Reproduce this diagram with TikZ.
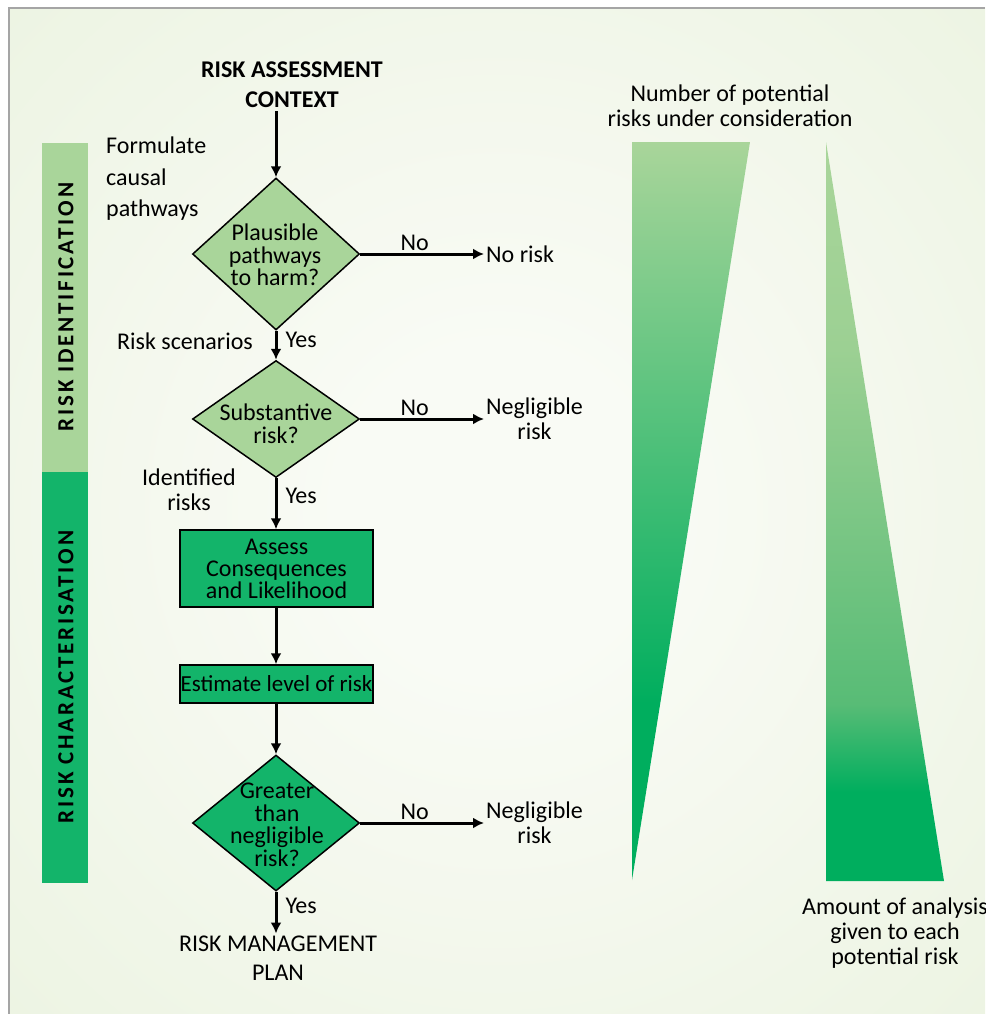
\documentclass[tikz,border=0pt]{standalone}
\usepackage{fontspec}
\setmainfont{Carlito}
\usetikzlibrary{positioning, shapes.geometric, arrows.meta}

\definecolor{paleleaf}{RGB}{169,213,154}
\definecolor{deepleaf}{RGB}{19,180,106}
\definecolor{wedgedark}{RGB}{0,174,94}
\definecolor{wedgemid}{RGB}{88,188,118}
\definecolor{wedgelite}{RGB}{156,208,147}
\definecolor{bgin}{RGB}{249,251,245}
\definecolor{bgout}{RGB}{228,239,214}
\definecolor{framegray}{RGB}{165,165,165}

\pgfdeclareradialshading{bgglow}{\pgfpoint{0bp}{0bp}}{color(0bp)=(bgin); color(8bp)=(bgin); color(55bp)=(bgout); color(75bp)=(bgout)}
\pgfdeclareverticalshading{wedgeleft}{100bp}{color(0bp)=(wedgedark); color(37bp)=(wedgedark); color(75bp)=(paleleaf); color(100bp)=(paleleaf)}
\pgfdeclareverticalshading{wedgeright}{100bp}{color(0bp)=(wedgedark); color(31bp)=(wedgedark); color(37bp)=(wedgemid); color(61bp)=(wedgelite); color(75bp)=(paleleaf); color(100bp)=(paleleaf)}

\tikzset{
  txt/.style={font=\fontsize{24}{25}\selectfont, align=center, inner sep=2pt},
  heading/.style={font=\fontsize{24}{30}\selectfont\bfseries, align=center},
  choice/.style={diamond, draw=black, line width=1.5pt, inner sep=0pt},
  qtext/.style={font=\fontsize{24}{22.5}\selectfont, align=center},
  stepbox/.style={rectangle, draw=black, line width=1.5pt, fill=deepleaf, font=\fontsize{24}{22}\selectfont, align=center, inner sep=0pt},
  flow/.style={-{Latex[length=11pt,width=11pt]}, line width=3pt},
  sidebar/.style={rotate=90, font=\fontsize{23}{23}\selectfont\bfseries\addfontfeature{LetterSpace=12}}
}

\begin{document}
\begin{tikzpicture}[x=1pt, y=-1pt]
\useasboundingbox (0,0) rectangle (985,1014);
% background and frame
\shade[shading=bgglow] (9,8) rectangle (985,1014);
\draw[framegray, line width=1.6pt] (9,1014) -- (9,8) -- (985,8);

% side bars
\fill[paleleaf] (42,143) rectangle (88,472);
\fill[deepleaf] (42,472) rectangle (88,883);
\node[sidebar] (identlbl) at (66,307) {RISK IDENTIFICATION};
\node[sidebar] (charlbl) at (66,677) {RISK CHARACTERISATION};

% flow chart
\node[heading] (context) at (292,85) {RISK ASSESSMENT\\CONTEXT};
\node[choice, fill=paleleaf, minimum width=167pt, minimum height=152pt] (plaus) at (276,254) {};
\node[qtext] (plaustxt) at (275,255) {Plausible\\pathways\\to harm?};
\node[choice, fill=paleleaf, minimum width=167pt, minimum height=117pt] (subst) at (276,419) {};
\node[qtext] (substtxt) at (276,424) {Substantive\\risk?};
\node[stepbox, minimum width=193pt, minimum height=77pt] (assess) at (276.5,568.5) {Assess\\Consequences\\and Likelihood};
\node[stepbox, minimum width=193pt, minimum height=38pt, font=\fontsize{23}{22}\selectfont] (estim) at (276.5,684) {Estimate level of risk};
\node[choice, fill=deepleaf, minimum width=167pt, minimum height=136pt] (greater) at (276,823) {};
\node[qtext] (greatertxt) at (277,825) {Greater\\than\\negligible\\risk?};
\node[txt, font=\fontsize{24}{29}\selectfont] (plan) at (278,958) {RISK MANAGEMENT\\PLAN};

% outcomes
\node[txt, anchor=west] (norisk) at (484,254) {No risk};
\node[txt, anchor=west] (neglone) at (484,419) {Negligible\\risk};
\node[txt, anchor=west] (negltwo) at (484,823) {Negligible\\risk};

% side notes
\node[txt, align=left, anchor=west, font=\fontsize{24}{31.5}\selectfont] (formul) at (104,179) {Formulate\\causal\\pathways};
\node[txt] (scen) at (185,341) {Risk scenarios};
\node[txt] (ident) at (189,490) {Identified\\risks};

% connectors
\draw[flow] (context.south -| plaus.north) -- (plaus.north);
\draw[flow] (plaus.east) -- node[txt, above, pos=0.44] {No} (norisk.west);
\draw[flow] (plaus.south) -- node[txt, right, pos=0.3, xshift=6pt] {Yes} (subst.north);
\draw[flow] (subst.east) -- node[txt, above, pos=0.44] {No} (neglone.west);
\draw[flow] (subst.south) -- node[txt, right, pos=0.35, xshift=6pt] {Yes} (assess.north -| subst.south);
\draw[flow] (assess.south -| subst.south) -- (estim.north -| subst.south);
\draw[flow] (estim.south -| subst.south) -- (greater.north);
\draw[flow] (greater.east) -- node[txt, above, pos=0.44] {No} (negltwo.west);
\draw[flow] (greater.south) -- node[txt, right, pos=0.35, xshift=6pt] {Yes} (plan.north -| greater.south);

% wedges
\shade[shading=wedgeleft] (632,142) -- (750,142) -- (632,880) -- cycle;
\shade[shading=wedgeright] (826,142) -- (944,881) -- (826,881) -- cycle;
\node[txt] (number) at (730,106) {Number of potential\\risks under consideration};
\node[txt] (amount) at (895,933) {Amount of analysis\\given to each\\potential risk};
\end{tikzpicture}
\end{document}
